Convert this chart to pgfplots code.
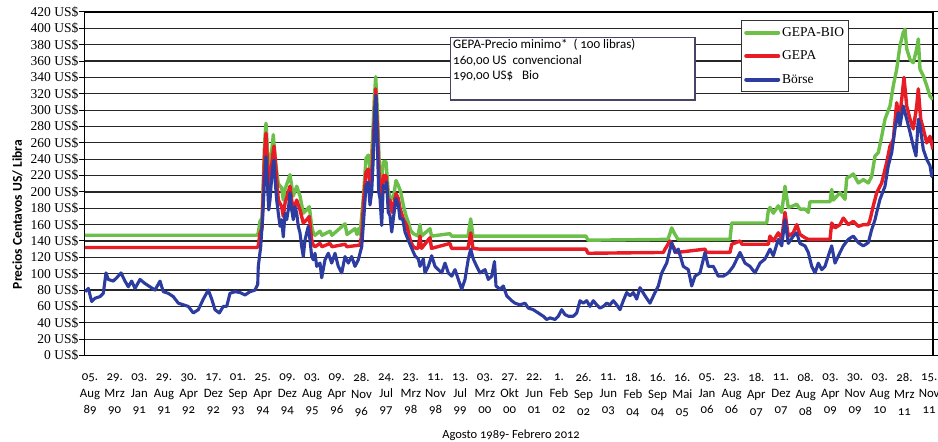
\documentclass[border=0pt]{standalone}
\usepackage{fontspec}
\setmainfont{Liberation Serif}
\newfontfamily\cfont[Numbers=OldStyle]{Carlito}
\usepackage{pgfplots}
\pgfplotsset{compat=1.18}
\definecolor{gbio}{RGB}{108,192,74}
\definecolor{gred}{RGB}{232,28,36}
\definecolor{gblue}{RGB}{44,60,160}
\definecolor{boxc}{RGB}{70,70,100}
\begin{document}
\begin{tikzpicture}
\useasboundingbox (-84.5pt,-86.5pt) rectangle (853.5pt,355.5pt);
\begin{axis}[
 at={(0pt,0pt)}, anchor=south west,
 scale only axis, width=848.5pt, height=343.5pt,
 xmin=84.5, xmax=933, ymin=0, ymax=420,
 ytick={0,20,...,420},
 yticklabel={\pgfmathprintnumber[assume math mode=true]{\tick}~US\$},
 yticklabel style={font=\fontsize{13.5}{15}\selectfont, inner sep=1pt},
 ymajorgrids, grid style={black!85, line width=1.2pt},
 tick align=outside, major tick length=5pt,
 y tick style={black, line width=1pt},
 x tick style={draw=none},
 xtick={90.00,114.68,139.36,164.04,188.72,213.40,238.08,262.76,287.44,312.12,336.80,361.48,386.16,410.84,435.52,460.20,484.88,509.56,534.24,558.92,583.60,608.28,632.96,657.64,682.32,707.00,731.68,756.36,781.04,805.72,830.40,855.08,879.76,904.44,929.12},
 xticklabels={{05.\\Aug\\89},{29.\\Mrz\\90},{03.\\Jan\\91},{29.\\Aug\\91},{30.\\Apr\\92},{17.\\Dez\\92},{01.\\Sep\\93},{25.\\Apr\\94},{09.\\Dez\\94},{03.\\Aug\\95},{09.\\Apr\\96},{28.\\Nov\\96},{24.\\Jul\\97},{23.\\Mrz\\98},{11.\\Nov\\98},{13.\\Jul\\99},{03.\\Mrz\\00},{27.\\Okt\\00},{22.\\Jun\\01},{1.\\Feb\\02},{26.\\Sep\\02},{11.\\Jun\\03},{18.\\Feb\\04},{16.\\Sep\\04},{16.\\Mai\\05},{05.\\Jan\\06},{23.\\Aug\\06},{18.\\Apr\\07},{11.\\Dez\\07},{08.\\Aug\\08},{03.\\Apr\\09},{30.\\Nov\\09},{03.\\Aug\\10},{28.\\Mrz\\11},{15.\\Nov\\11}},
 xticklabel style={font=\cfont\fontsize{12.8}{16.7}\selectfont, align=center, anchor=north, inner sep=0pt, yshift=-13pt},
 axis line style={black, line width=1.2pt},
 xlabel={Agosto 1989- Febrero 2012},
 xlabel style={font=\cfont\fontsize{12.5}{14}\selectfont, at={(axis description cs:0.5027,-0.2330)}, anchor=center},
 ylabel={Precios Centavos US/ Libra},
 ylabel style={font=\cfont\bfseries\fontsize{13.5}{15}\selectfont, at={(axis description cs:-0.079,0.41)}, anchor=center},
 legend style={at={(axis description cs:0.7734,0.9767)}, anchor=north west, draw=black!80, line width=1pt, fill=white, font=\fontsize{13.5}{15}\selectfont, inner xsep=3pt, inner ysep=5pt, row sep=9pt, cells={anchor=west}},
 legend image code/.code={\draw[#1,line width=4pt,line cap=round] (0pt,0pt) -- (32pt,0pt);},
 every axis plot/.append style={line join=round},
]
\addplot[gbio, line width=3.4pt] coordinates {(85,147)(257,147)(258.3,150)(260,164)(262,168)(264.7,262)(266,284)(267.3,255)(268.7,219)(270,230)(272.7,262)(273.3,270)(275.3,239)(278.3,210)(281.7,205)(283.3,190)(285,203)(290,221)(291.7,207)(293.3,195)(296.7,207)(300,195)(303.3,174)(306.7,178)(309.3,182)(311.7,158)(313.3,150)(315,147)(320,152)(322,147)(330,152)(332,147)(345,161)(347,148)(355,155)(357,148)(358.3,155)(360,148)(363.3,192)(366,241)(368.3,245)(370.7,224)(372.7,269)(374.3,314)(375.7,341)(377.3,302)(379.3,233)(381.7,216)(383.3,237)(386,237)(388.3,200)(390.7,192)(393.3,192)(396,214)(398.3,208)(400.7,200)(403.3,184)(406,171)(408.3,163)(410.7,153)(413.3,149)(416.7,147)(418,146)(420,160)(421.5,146)(430,155)(431.5,146)(450,149)(451.5,146)(468,146)(470.7,167)(473,146)(586,146)(588,141)(668,142)(671.7,156)(675,148)(678,142)(730,142)(731.7,162)(766.7,162)(768.3,177)(770,181)(773.3,174)(778.3,183)(781.7,175)(785,207)(788.3,181)(793.3,183)(796.7,185)(800,179)(805,179)(808.3,175)(810,188)(830,188)(831.7,203)(833.3,190)(840,199)(845,191)(846.7,217)(850,219)(853.3,222)(858.3,211)(863.3,215)(868.3,211)(871.7,219)(875,244)(878.3,248)(881.7,268)(885,289)(890,305)(893.3,330)(896.7,350)(900,379)(903.3,395)(905,399)(906.7,375)(910,362)(913.3,358)(916.7,375)(918.3,387)(920,350)(923.3,342)(926.7,330)(930,317)(933,313)};
\addlegendentry{GEPA-BIO}
\addplot[gred, line width=3.4pt] coordinates {(85,132)(257,132)(258.3,134)(260,150)(262,155)(264.7,250)(266,272)(267.3,240)(268.7,207)(270,215)(272.7,245)(274,256)(275.3,239)(278.3,190)(281.7,182)(283.3,170)(285,186)(290,207)(291.7,190)(293.3,178)(296.7,190)(300,178)(303.3,162)(306.7,166)(309.3,170)(311.7,141)(313.3,135)(315,133)(320,137)(322,133)(330,137)(332,133)(345,136)(347,133)(360,135)(362,150)(363.3,185)(366,224)(368.3,228)(370,210)(371.7,220)(373.3,261)(375.7,326)(377.3,280)(379.3,216)(381.7,190)(383.3,220)(386,220)(388.3,184)(390,190)(392,175)(396,198)(398.3,192)(400,180)(403.3,167)(406.7,159)(410.7,139)(413.3,133)(416,131)(418,131)(420,146)(421.5,131)(430,144)(431.5,131)(450,137)(451.5,131)(468,131)(470.7,150)(473,131)(480,130)(586,130)(588,125)(663.3,126)(665,130)(670,140)(673.3,133)(676.7,126)(705,130)(706.5,126)(730,126)(731.7,136)(740,140)(742,136)(768.3,136)(770,146)(773.3,140)(778.3,150)(781.7,142)(785,175)(788.3,146)(793.3,150)(796.7,160)(800,148)(805,144)(808.3,142)(830,142)(831.7,162)(835,156)(840,160)(843.3,168)(848.3,160)(853.3,164)(858.3,158)(863.3,160)(868.3,160)(870,166)(873.3,183)(876.7,199)(881.7,211)(886.7,236)(890,256)(893.3,264)(896.7,309)(899.3,289)(901.7,313)(904,340)(906.7,305)(910,289)(913.3,277)(916.7,305)(918.3,326)(920.7,289)(923.3,277)(926.7,260)(930,268)(933,252)};
\addlegendentry{GEPA}
\addplot[gblue, line width=3.1pt] coordinates {(85,78)(88.3,82)(91.7,66)(95,70)(100,72)(103.3,76)(106,101)(108.3,93)(113.3,91)(116.7,95)(121,101)(125,91)(128.3,84)(131.7,91)(135,82)(140,93)(145,88)(150,84)(155,80)(160,91)(163.3,78)(168.3,76)(173.3,72)(178.3,64)(183.3,62)(188.3,60)(193.3,52)(198.3,56)(203.3,69)(208.3,80)(211.7,69)(215,56)(219.3,52)(223.3,60)(226.7,60)(230,76)(235,78)(240,77)(245,74)(250,78)(255,80)(257.7,87)(258.3,109)(260.7,133)(262.7,170)(264.7,219)(266,243)(267.3,215)(268.7,178)(270,190)(271.3,211)(272.7,231)(274,239)(275.3,211)(276.7,190)(278.3,174)(280,158)(281.7,166)(283.3,145)(285,174)(286.7,166)(288.3,178)(290,199)(291.7,178)(293.3,166)(295,182)(296.7,174)(298.3,158)(300,150)(301.7,133)(303.3,121)(305,141)(306.7,150)(308.3,158)(310,141)(311.7,121)(313.3,117)(315,125)(316.7,109)(320,113)(321.7,95)(325,117)(328.3,125)(331.7,113)(335,125)(338.3,109)(341.7,101)(345,121)(348.3,113)(351.7,121)(355,109)(358.3,117)(361.7,133)(363.3,159)(366,208)(368.3,212)(370,184)(371.7,200)(373.3,241)(375,302)(376,318)(377.3,261)(378.7,200)(380,192)(381.7,159)(383.3,208)(385,204)(386.7,212)(388.3,175)(390,171)(391.7,151)(393.3,167)(396,192)(398.3,184)(400,167)(402.7,167)(405,151)(408.3,141)(411.7,131)(415,122)(418.3,118)(420,109)(423.3,118)(425,101)(428.3,109)(431.7,122)(435,109)(438.3,105)(441.7,101)(445,113)(448.3,101)(451.7,97)(455,105)(458.3,93)(461.7,81)(465,93)(468.3,118)(470.7,130)(473.3,118)(476.7,109)(480,101)(485,105)(488.3,93)(491.7,97)(494.5,115)(496,85)(500,81)(503.3,85)(506.7,73)(511.7,67)(515,64)(520,62)(525,64)(528.3,58)(533.3,56)(538.3,52)(543.3,48)(546.7,44)(550,46)(555,44)(558.3,48)(561.7,56)(565,50)(568.3,48)(573.3,48)(576.7,52)(580,67)(583.3,64)(586.7,67)(590,60)(593.3,67)(596.7,62)(600,58)(603.3,60)(606.7,64)(610,62)(613.3,67)(616.7,62)(620,56)(623.3,67)(626.7,77)(630,73)(633.3,77)(636.7,69)(640,83)(645,73)(650,64)(655,77)(658.3,85)(661.7,101)(666.7,113)(671.7,138)(675,126)(678.3,130)(683.3,109)(688.3,105)(691.7,85)(695,97)(700,101)(705,126)(708.3,109)(713.3,109)(718.3,97)(723.3,97)(728.3,101)(733.3,109)(740,126)(745,113)(750,109)(755,101)(760,113)(765,118)(770,130)(773.3,122)(778.3,142)(781.7,134)(785,166)(788.3,137)(793.3,146)(796.7,150)(800,137)(805,134)(808.3,126)(811.7,109)(815,101)(818.3,113)(821.7,105)(825,109)(828.3,122)(831.7,134)(835,113)(840,126)(843.3,134)(848.3,142)(853.3,146)(858.3,138)(863.3,134)(868.3,138)(871.7,154)(875,166)(876.7,175)(880,191)(885,207)(888.3,232)(891.7,248)(895,277)(898.3,297)(900,281)(903.3,305)(905,297)(906.7,289)(910,273)(913.3,256)(916,244)(918.3,289)(920,281)(923.3,252)(926.7,240)(930,232)(931.7,219)(933,228)};
\addlegendentry{Börse}
\end{axis}
\draw[boxc, line width=1.3pt, fill=white] (366.2pt,255.5pt) rectangle (610.5pt,318.2pt);
\node[anchor=base west, inner sep=0pt, font=\cfont\fontsize{13}{15}\selectfont] at (368.5pt,306.5pt) {GEPA-Precio minimo*\ \ ( 100 libras)};
\node[anchor=base west, inner sep=0pt, font=\cfont\fontsize{13}{15}\selectfont] at (368.5pt,290.5pt) {160,00 US\ \ convencional};
\node[anchor=base west, inner sep=0pt, font=\cfont\fontsize{13}{15}\selectfont] at (368.5pt,275.5pt) {190,00 US\$\ \ \ Bio};
\end{tikzpicture}
\end{document}
